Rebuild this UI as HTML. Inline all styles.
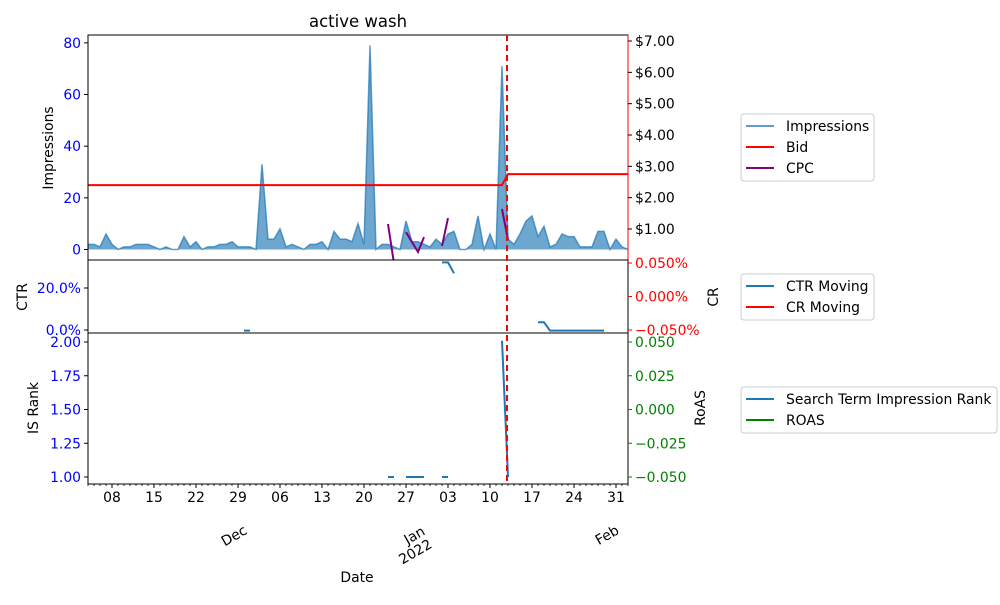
<!DOCTYPE html>
<html><head><meta charset="utf-8"><style>
body{margin:0;background:#fff;}
svg{font-family:"DejaVu Sans","Liberation Sans",sans-serif;font-size:13.9px;}
</style></head><body>
<svg id="chart" width="1000" height="600" viewBox="0 0 1000 600"></svg>
<script>
const impressions=[2,2,1,6,2,0,1,1,2,2,2,1,0,1,0,0,5,1,3,0,1,1,2,2,3,1,1,1,0,33,4,4,8,1,2,1,0,2,2,3,0,7,4,4,3,10,2,79,0,2,2,1,0,11,3,3,2,1,4,2,6,7,0,0,2,13,0,6,0,71,4,2,6,11,13,5,9,1,2,6,5,5,1,1,1,7,7,0,4,1,0];
const cpc=[[50,1.16],[51,-0.1],[53,0.9],[54,0.58],[55,0.27],[56,0.74],[59,0.46],[60,1.35],[69,1.64],[70,0.65]];
const ctr=[[26,-0.3],[27,-0.3],[59,32.2],[60,32.2],[61,27.0],[75,3.7],[76,3.7],[77,-0.3],[78,-0.3],[79,-0.3],[80,-0.3],[81,-0.3],[82,-0.3],[83,-0.3],[84,-0.3],[85,-0.3],[86,-0.3]];
const isRank=[[50,1],[51,1],[53,1],[54,1],[55,1],[56,1],[59,1],[60,1],[69,2.01],[70,1.0]];
const bidBefore=2.40, bidAfter=2.75, changeDay=70;
const impTicks=[0,20,40,60,80];
const cpcTicks=[1,2,3,4,5,6,7];
const ctrTicks=[0,20];
const crTicks=["0.050%","0.000%","−0.050%"];
const rankTicks=[1.00,1.25,1.50,1.75,2.00];
const roasTicks=["0.050","0.025","0.000","−0.025","−0.050"];
const dayLabels=["08","15","22","29","06","13","20","27","03","10","17","24","31"];
const firstLabelDay=4;

const NS="http://www.w3.org/2000/svg";
const svg=document.getElementById('chart');
function el(tag,attrs,parent,name,inter){const e=document.createElementNS(NS,tag);for(const k in attrs)e.setAttribute(k,attrs[k]);(parent||svg).appendChild(e);


return e;}
function txt(s,attrs,name,parent){const t=el('text',attrs,parent,name);t.textContent=s;return t;}
const X0=88,X1=628;
const x=d=>X0+6*d;
const yImp=v=>249.5-v*2.583;
const yCpc=v=>229-(v-1)*31.33;
const yCtr=v=>330-v*2.1;
const yRank=v=>477-(v-1)*135;
const defs=el('defs',{},svg,'defs');
function clip(id,y0,y1){const c=el('clipPath',{id:id},defs,'clip-'+id);el('rect',{x:X0,y:y0,width:X1-X0,height:y1-y0},c,'clip-rect');}
clip('c1',35,260);clip('c2',260,333);clip('c3',333,484);
txt('active wash',{x:358,y:27,'text-anchor':'middle','font-size':'16.5'},'chart-title');
const g1=el('g',{'clip-path':'url(#c1)'},svg,'impressions-panel');
let area='M'+x(0)+','+yImp(0);impressions.forEach((v,i)=>area+=' L'+x(i)+','+yImp(v));area+=' L'+x(impressions.length-1)+','+yImp(0)+'Z';
el('path',{d:area,fill:'#1f77b4','fill-opacity':0.65,stroke:'none'},g1,'impressions-area');
el('polyline',{points:impressions.map((v,i)=>x(i)+','+yImp(v)).join(' '),fill:'none',stroke:'#1f77b4','stroke-opacity':0.7,'stroke-width':1.5},g1,'impressions-line');
const bidPts=[[0,bidBefore],[changeDay-1,bidBefore],[changeDay,bidAfter],[impressions.length-1,bidAfter]];
el('polyline',{points:bidPts.map(p=>x(p[0])+','+yCpc(p[1])).join(' '),fill:'none',stroke:'red','stroke-width':2},g1,'bid-line');
function segs(arr,yf,g,color,name){let cur=[];const out=()=>{if(cur.length>1)el('polyline',{points:cur.join(' '),fill:'none',stroke:color,'stroke-width':2},g,name);cur=[];};
arr.forEach((p,i)=>{if(i>0&&p[0]!==arr[i-1][0]+1)out();cur.push(x(p[0])+','+yf(p[1]));});out();}
segs(cpc,yCpc,g1,'purple','cpc-line');
el('rect',{x:X0,y:35,width:X1-X0,height:225,fill:'none',stroke:'#000'},svg,'impressions-frame');
el('line',{x1:X1,y1:35,x2:X1,y2:260,stroke:'red'},svg,'cpc-spine');
impTicks.forEach(v=>{const y=yImp(v);el('line',{x1:X0-4,y1:y,x2:X0,y2:y,stroke:'#000'},svg,'imp-tick');txt(String(v),{x:X0-7,y:y+5,'text-anchor':'end',fill:'blue'},'imp-tick-label');});
cpcTicks.forEach(v=>{const y=yCpc(v);el('line',{x1:X1,y1:y,x2:X1+4,y2:y,stroke:'#000'},svg,'cpc-tick');txt('$'+v.toFixed(2),{x:X1+7,y:y+5},'cpc-tick-label');});
txt('Impressions',{transform:'translate(53,148) rotate(-90)','text-anchor':'middle'},'y-axis-title-impressions');
const g2=el('g',{'clip-path':'url(#c2)'},svg,'ctr-panel');
segs(ctr,yCtr,g2,'#1f77b4','ctr-moving-line');
el('rect',{x:X0,y:260,width:X1-X0,height:73,fill:'none',stroke:'#000'},svg,'ctr-frame');
ctrTicks.forEach(v=>{const y=yCtr(v);el('line',{x1:X0-4,y1:y,x2:X0,y2:y,stroke:'#000'},svg,'ctr-tick');txt(v.toFixed(1)+'%',{x:X0-7,y:y+5,'text-anchor':'end',fill:'blue'},'ctr-tick-label');});
crTicks.forEach((s,i)=>{const y=263+i*33.5;el('line',{x1:X1,y1:y,x2:X1+4,y2:y,stroke:'red'},svg,'cr-tick');txt(s,{x:X1+7,y:y+5,fill:'red'},'cr-tick-label');});
txt('CTR',{transform:'translate(27,297) rotate(-90)','text-anchor':'middle'},'y-axis-title-ctr');
txt('CR',{transform:'translate(718,297) rotate(-90)','text-anchor':'middle'},'y-axis-title-cr');
const g3=el('g',{'clip-path':'url(#c3)'},svg,'rank-panel');
segs(isRank,yRank,g3,'#1f77b4','is-rank-line');
el('rect',{x:X0,y:333,width:X1-X0,height:151,fill:'none',stroke:'#000'},svg,'rank-frame');
rankTicks.forEach(v=>{const y=yRank(v);el('line',{x1:X0-4,y1:y,x2:X0,y2:y,stroke:'#000'},svg,'rank-tick');txt(v.toFixed(2),{x:X0-7,y:y+5,'text-anchor':'end',fill:'blue'},'rank-tick-label');});
roasTicks.forEach((s,i)=>{const y=342+i*33.75;el('line',{x1:X1,y1:y,x2:X1+4,y2:y,stroke:'green'},svg,'roas-tick');txt(s,{x:X1+7,y:y+5,fill:'green'},'roas-tick-label');});
txt('IS Rank',{transform:'translate(38,408) rotate(-90)','text-anchor':'middle'},'y-axis-title-rank');
txt('RoAS',{transform:'translate(705,408) rotate(-90)','text-anchor':'middle'},'y-axis-title-roas');
el('line',{x1:x(changeDay)-1,y1:35,x2:x(changeDay)-1,y2:484,stroke:'red','stroke-width':2,'stroke-dasharray':'6,4'},svg,'bid-change-marker');
for(let d=0;d<=90;d++){el('line',{x1:x(d),y1:484,x2:x(d),y2:486,stroke:'#000','stroke-width':0.8},svg,'x-minor-tick');}
dayLabels.forEach((s,i)=>{const d=firstLabelDay+7*i;el('line',{x1:x(d),y1:484,x2:x(d),y2:488,stroke:'#000'},svg,'x-major-tick');txt(s,{x:x(d),y:502,'text-anchor':'middle'},'x-tick-label');});
[['Dec',27,533],['Feb',89,533]].forEach(m=>{txt(m[0],{transform:'translate('+(x(m[1])-2)+','+m[2]+') rotate(-30)','text-anchor':'end'},'x-month-label');});
txt('Jan',{transform:'translate(426,534) rotate(-30)','text-anchor':'end'},'x-month-label');
txt('2022',{transform:'translate(433,547) rotate(-30)','text-anchor':'end'},'x-year-label');
txt('Date',{x:357,y:582,'text-anchor':'middle'},'x-axis-title');
function legend(y,w,items,name){const g=el('g',{},svg,name);el('rect',{x:741,y:y,width:w,height:items.length*21+4,rx:3,fill:'#fff',stroke:'#ccc'},g,name+'-box');
items.forEach((it,i)=>{const yy=y+12+i*21;el('line',{x1:746,y1:yy,x2:774,y2:yy,stroke:it[1],'stroke-width':2,'stroke-opacity':it[2]||1},g,'legend-swatch');txt(it[0],{x:786,y:yy+5},'legend-entry',g);});}
legend(114,133,[['Impressions','#1f77b4',0.7],['Bid','red'],['CPC','purple']],'legend-top');
legend(274,133,[['CTR Moving','#1f77b4'],['CR Moving','red']],'legend-middle');
legend(387,256,[['Search Term Impression Rank','#1f77b4'],['ROAS','green']],'legend-bottom');
</script>
</body></html>
